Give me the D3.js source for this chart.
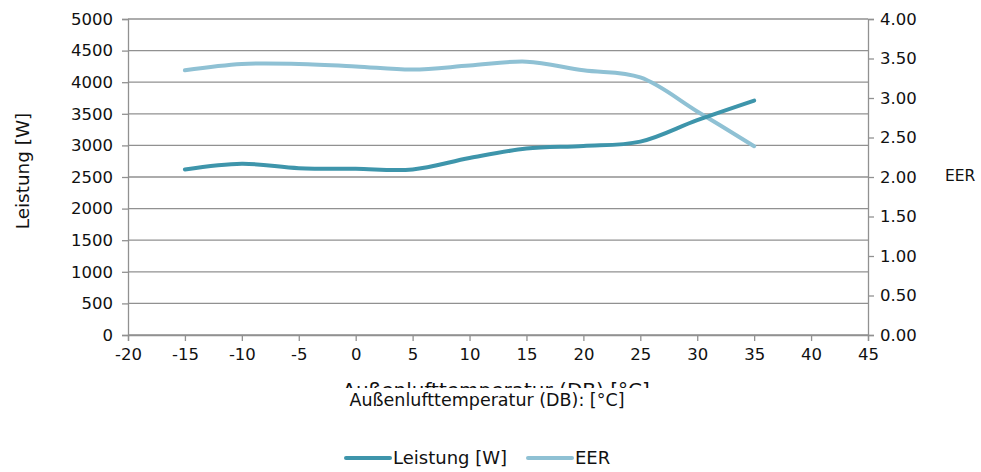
<!DOCTYPE html>
<html>
<head>
<meta charset="utf-8">
<script src="https://cdn.jsdelivr.net/npm/d3@7"></script>
<style>
  body { margin: 0; background: #fff; }
  text { font-family: "DejaVu Sans", sans-serif; fill: #111; }
</style>
</head>
<body>
<svg width="981" height="472"></svg>
<script>
// data
var temps = [-15, -10, -5, 0, 5, 10, 15, 20, 25, 30, 35];
var leistung = [2620, 2710, 2640, 2630, 2620, 2800, 2950, 2990, 3060, 3400, 3710];
var eer = [3.35, 3.43, 3.43, 3.40, 3.36, 3.41, 3.46, 3.35, 3.26, 2.83, 2.39];
var xTicks = [-20, -15, -10, -5, 0, 5, 10, 15, 20, 25, 30, 35, 40, 45];
var leftTicks = [0, 500, 1000, 1500, 2000, 2500, 3000, 3500, 4000, 4500, 5000];
var rightTicks = [0, 0.5, 1, 1.5, 2, 2.5, 3, 3.5, 4];

var svg = d3.select("svg"),
    plotLeft = 128, plotRight = 868, plotTop = 19, plotBottom = 335;

var x = d3.scaleLinear().domain([-20, 45]).range([plotLeft, plotRight]);
var yL = d3.scaleLinear().domain([0, 5000]).range([plotBottom, plotTop]);
var yR = d3.scaleLinear().domain([0, 4]).range([plotBottom, plotTop]);

var gridColor = "#919191";

// gridlines
svg.append("g")
  .selectAll("line")
  .data(leftTicks)
  .enter().append("line")
  .attr("x1", plotLeft).attr("x2", plotRight)
  .attr("y1", d => yL(d)).attr("y2", d => yL(d))
  .attr("stroke", gridColor)
  .attr("stroke-width", 1.3);

// axes
var axisL = svg.append("g")
  .attr("transform", "translate(" + plotLeft + ",0)")
  .call(d3.axisLeft(yL).tickValues(leftTicks).tickSize(6).tickPadding(9).tickFormat(d3.format("d")));
var axisR = svg.append("g")
  .attr("transform", "translate(" + plotRight + ",0)")
  .call(d3.axisRight(yR).tickValues(rightTicks).tickSize(6).tickPadding(6).tickFormat(d3.format(".2f")));
var axisB = svg.append("g")
  .attr("transform", "translate(0," + plotBottom + ")")
  .call(d3.axisBottom(x).tickValues(xTicks).tickSize(6).tickPadding(5).tickFormat(d => String(d)));

[axisL, axisR, axisB].forEach(function(a) {
  a.select(".domain").attr("stroke", gridColor).attr("stroke-width", 1.3);
  a.selectAll(".tick line").attr("stroke", gridColor).attr("stroke-width", 1.3);
  a.selectAll(".tick text")
    .style("font-family", "'DejaVu Sans', sans-serif")
    .style("font-size", "16.5px")
    .attr("fill", "#111");
});
axisB.selectAll(".tick text").attr("dy", "0.85em");

// lines
var dark = "#3e95ab", light = "#8fc1d4";

var lineL = d3.line()
  .x((d, i) => x(temps[i]))
  .y(d => yL(d))
  .curve(d3.curveCatmullRom.alpha(0.5));
var lineR = d3.line()
  .x((d, i) => x(temps[i]))
  .y(d => yR(d))
  .curve(d3.curveCatmullRom.alpha(0.5));

svg.append("path")
  .datum(eer)
  .attr("d", lineR)
  .attr("fill", "none")
  .attr("stroke", light)
  .attr("stroke-width", 4)
  .attr("stroke-linecap", "round");

svg.append("path")
  .datum(leistung)
  .attr("d", lineL)
  .attr("fill", "none")
  .attr("stroke", dark)
  .attr("stroke-width", 4)
  .attr("stroke-linecap", "round");

// axis titles
svg.append("text")
  .attr("transform", "translate(29,171) rotate(-90)")
  .attr("text-anchor", "middle")
  .style("font-size", "18.4px")
  .text("Leistung [W]");

svg.append("text")
  .attr("x", 945).attr("y", 181)
  .style("font-size", "15.5px")
  .text("EER");

// ghost of the x title, cut off at its lower half
svg.append("clipPath").attr("id", "ghostclip")
  .append("rect").attr("x", 300).attr("y", 370).attr("width", 400).attr("height", 18);
svg.append("text")
  .attr("x", 496).attr("y", 397)
  .attr("text-anchor", "middle")
  .attr("clip-path", "url(#ghostclip)")
  .style("font-size", "20px")
  .text("Außenlufttemperatur (DB) [°C]");

svg.append("text")
  .attr("x", 487).attr("y", 406)
  .attr("text-anchor", "middle")
  .style("font-size", "17.5px")
  .text("Außenlufttemperatur (DB): [°C]");

// legend
var legend = [
  { name: "Leistung [W]", color: dark, x: 346 },
  { name: "EER", color: light, x: 528 }
];
var lg = svg.append("g").selectAll("g")
  .data(legend)
  .enter().append("g");
lg.append("line")
  .attr("x1", d => d.x).attr("x2", d => d.x + 44)
  .attr("y1", 458).attr("y2", 458)
  .attr("stroke", d => d.color)
  .attr("stroke-width", 4)
  .attr("stroke-linecap", "round");
lg.append("text")
  .attr("x", d => d.x + 47).attr("y", 464)
  .style("font-size", "18px")
  .text(d => d.name);
</script>
</body>
</html>
